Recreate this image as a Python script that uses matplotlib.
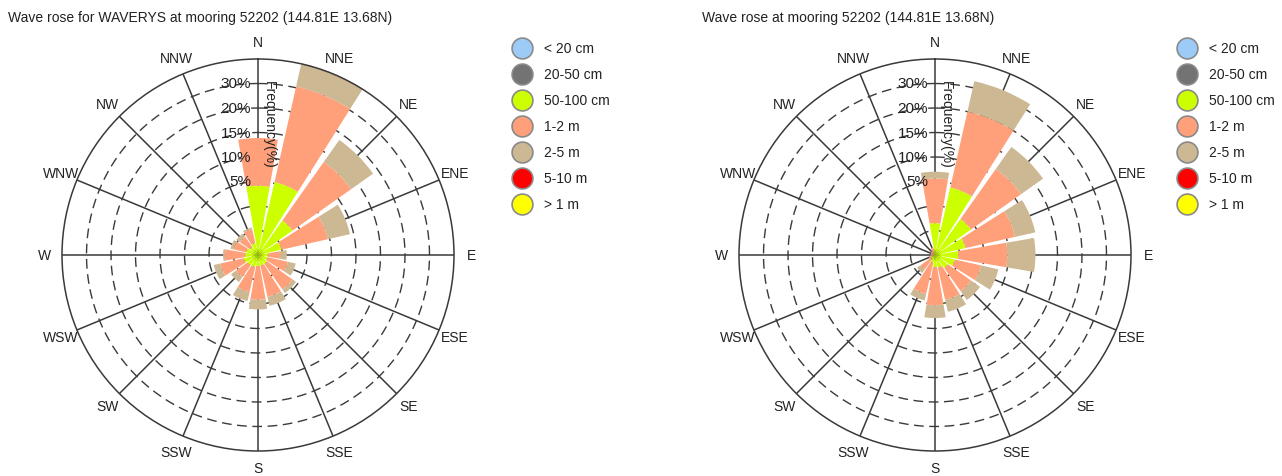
import numpy as np
import matplotlib
matplotlib.use("Agg")
import matplotlib.pyplot as plt
from matplotlib.lines import Line2D

plt.rcParams['font.family'] = ['Liberation Sans', 'DejaVu Sans']

# Direction sectors (clockwise from north)
directions = ['N', 'NNE', 'NE', 'ENE', 'E', 'ESE', 'SE', 'SSE',
              'S', 'SSW', 'SW', 'WSW', 'W', 'WNW', 'NW', 'NNW']

# Height classes shown in the legend
classes = ['< 20 cm', '20-50 cm', '50-100 cm', '1-2 m', '2-5 m', '5-10 m', '> 1 m']
class_colors = ['#9DCBF7', '#737373', '#CCFF00', '#FFA07A', '#CDB894', '#FF0000', '#FFFF00']

# Radial tick labels as printed on the chart
ring_labels = ['5%', '10%', '15%', '20%', '30%']

# Left rose: WAVERYS frequencies per direction (chart radial units)
left_50_100 = [11.3, 12.2, 6.9, 3.9, 1.6, 1.6, 1.8, 1.8, 1.8, 2.0, 2.1, 2.4, 2.1, 2.0, 1.6, 2.0]
left_1_2 = [7.8, 16.0, 11.7, 7.8, 2.0, 3.4, 5.1, 5.2, 5.5, 4.2, 2.3, 3.9, 3.3, 2.1, 2.0, 2.3]
left_2_5 = [0.0, 3.9, 4.4, 3.7, 1.1, 1.3, 0.7, 1.5, 1.6, 1.5, 1.0, 1.1, 0.3, 0.5, 0.7, 0.3]

# Right rose: mooring frequencies per direction (chart radial units)
right_50_100 = [5.2, 11.3, 7.2, 5.1, 3.8, 3.3, 2.6, 2.1, 2.0, 1.3, 0.8, 0.5, 0.3, 0.3, 0.3, 0.5]
right_1_2 = [7.3, 12.7, 10.0, 8.3, 8.0, 4.4, 4.6, 5.4, 6.2, 5.2, 2.1, 0.5, 0.4, 0.4, 0.5, 0.8]
right_2_5 = [1.1, 5.1, 4.4, 3.4, 4.6, 2.9, 1.8, 2.0, 2.1, 1.1, 0.7, 0.0, 0.0, 0.0, 0.0, 0.0]

W, H = 1282, 477
fig = plt.figure(figsize=(W / 100, H / 100), dpi=100)

RMAX = 32
GRID = '#3a3a3a'


def draw_rose(cx, cy, rad, title, tx, stacks, lx):
    ax = fig.add_axes([(cx - rad) / W, (H - cy - rad) / H, 2 * rad / W, 2 * rad / H],
                      projection='polar')
    ax.set_theta_zero_location('N')
    ax.set_theta_direction(-1)
    ax.set_ylim(0, RMAX)
    ax.grid(False)
    ax.set_xticks([])
    ax.set_yticks([])
    ax.spines['polar'].set_color(GRID)
    ax.spines['polar'].set_linewidth(1.1)
    ax.patch.set_alpha(0)

    angles = np.deg2rad(np.arange(16) * 22.5)
    full = np.linspace(0, 2 * np.pi, 400)
    for r in range(4, RMAX, 4):
        ax.plot(full, np.full_like(full, r), color=GRID, lw=1.0,
                dashes=(7, 4), zorder=1)
    for a in angles:
        ax.plot([a, a], [0, RMAX], color=GRID, lw=1.1, zorder=1)

    # stacked bars
    width = np.deg2rad(19.5)
    bottom = np.zeros(16)
    for vals, col in stacks:
        vals = np.array(vals)
        ax.bar(angles, vals, width=width, bottom=bottom, color=col,
               edgecolor='none', zorder=2, clip_on=False)
        bottom += vals

    # direction labels
    for a, d in zip(angles, directions):
        ax.text(a, 34.8, d, ha='center', va='center', fontsize=10, color='#222222')

    # radial labels
    for i, lab in enumerate(ring_labels):
        ax.annotate(lab, xy=(0, 12 + 4 * i), xytext=(-5, 0), textcoords='offset points',
                    ha='right', va='center', fontsize=11, color='#222222', zorder=3)
    ax.annotate('Frequency(%)', xy=(0, 28.5), xytext=(3, 0), textcoords='offset points',
                ha='left', va='top', rotation=270, fontsize=10, color='#222222', zorder=3)

    fig.text(tx / W, 1 - 18 / H, title, ha='left', va='center', fontsize=10, color='#222222')

    # legend
    for i, (lab, col) in enumerate(zip(classes, class_colors)):
        y = 1 - (49 + 26 * i) / H
        fig.add_artist(Line2D([lx / W], [y], marker='o', markersize=15,
                              markerfacecolor=col, markeredgecolor='#8a8a8a',
                              markeredgewidth=1.2, linestyle='none'))
        fig.text((lx + 22) / W, y, lab, ha='left', va='center', fontsize=10, color='#222222')


draw_rose(258, 256, 196, 'Wave rose for WAVERYS at mooring 52202 (144.81E 13.68N)', 8,
          [(left_50_100, class_colors[2]), (left_1_2, class_colors[3]), (left_2_5, class_colors[4])],
          522)
draw_rose(935, 256, 196, 'Wave rose at mooring 52202 (144.81E 13.68N)', 702,
          [(right_50_100, class_colors[2]), (right_1_2, class_colors[3]), (right_2_5, class_colors[4])],
          1187)

fig.savefig('out.png', dpi=100)
